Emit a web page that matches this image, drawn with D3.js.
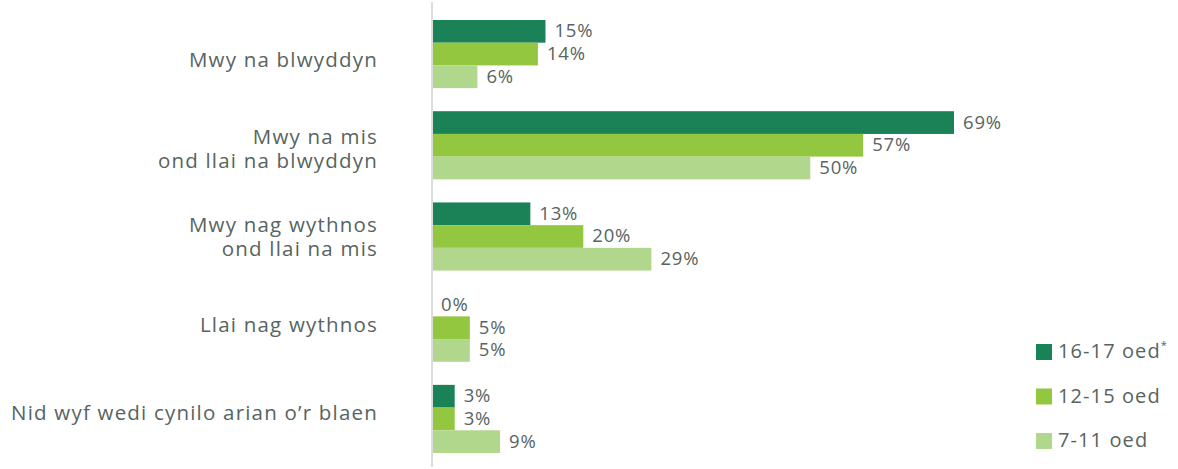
<!DOCTYPE html>
<html><head><meta charset="utf-8">
<script src="https://cdn.jsdelivr.net/npm/d3@7"></script>
<style>body{margin:0;background:#fff;} text{font-family:"Open Sans", sans-serif;}</style>
</head><body>
<svg id="c" width="1178" height="469"></svg>
<script>
const categories = [["Mwy na blwyddyn"],["Mwy na mis","ond llai na blwyddyn"],["Mwy nag wythnos","ond llai na mis"],["Llai nag wythnos"],["Nid wyf wedi cynilo arian o’r blaen"]];
const seriesNames = ["16-17 oed","12-15 oed","7-11 oed"];
const s1617 = [15,69,13,0,3];
const s1215 = [14,57,20,5,3];
const s711 = [6,50,29,5,9];
const colors = ["#1b8257","#93c73f","#b1d78c"];
const series = [s1617,s1215,s711];

const svg = d3.select("#c");
const textCol = "#57645f";
const x = d3.scaleLinear().domain([0,69]).range([432,954]);
const y0 = d3.scaleBand().domain(d3.range(categories.length)).range([8.5,464.5]).paddingInner(0.253).paddingOuter(0.126);
const y1 = d3.scaleBand().domain(d3.range(series.length)).range([0,y0.bandwidth()]);
const yl = d3.scalePoint().domain(d3.range(categories.length)).range([62,415]);

svg.append("line").attr("x1",432).attr("x2",432).attr("y1",2).attr("y2",467).attr("stroke","#d9dcdb").attr("stroke-width",2);

const g = svg.selectAll("g.grp").data(categories).join("g").attr("class","grp")
  .attr("transform",(d,i)=>`translate(0,${y0(i)})`);
g.each(function(cat,i){
  const gg = d3.select(this);
  series.forEach((s,j)=>{
    gg.append("rect").attr("x",x(0)+1).attr("y",y1(j)).attr("width",Math.max(0,x(s[i])-x(0)-1)).attr("height",y1.bandwidth()).attr("fill",colors[j]);
    gg.append("text").attr("x",x(s[i])+9).attr("y",y1(j)+y1.bandwidth()/2+1).attr("dominant-baseline","middle")
      .attr("font-size",18.5).attr("letter-spacing",0.8).attr("fill",textCol).text(s[i]+"%");
  });
});

const lh = 24;
svg.selectAll("text.cat").data(categories).join("text").attr("class","cat")
  .attr("text-anchor","end").attr("font-size",20.5).attr("letter-spacing",1.2).attr("fill",textCol)
  .each(function(cat,i){
    const t = d3.select(this);
    cat.forEach((line,k)=>{
      t.append("tspan").attr("x",378).attr("y",yl(i) + (k-(cat.length-1)/2)*lh).attr("dominant-baseline","middle").text(line);
    });
  });

const lg = svg.selectAll("g.lg").data(seriesNames).join("g").attr("class","lg")
  .attr("transform",(d,i)=>`translate(1036,${352+i*44.5})`);
lg.append("rect").attr("x",0).attr("y",-8).attr("width",16).attr("height",16).attr("fill",(d,i)=>colors[i]);
const lt = lg.append("text").attr("x",22).attr("y",1).attr("dominant-baseline","middle").attr("font-size",20).attr("letter-spacing",1.1).attr("fill",textCol).text(d=>d);
lt.filter((d,i)=>i===0).append("tspan").attr("font-size",11).attr("dy",-7).text("*");
</script>
</body></html>
